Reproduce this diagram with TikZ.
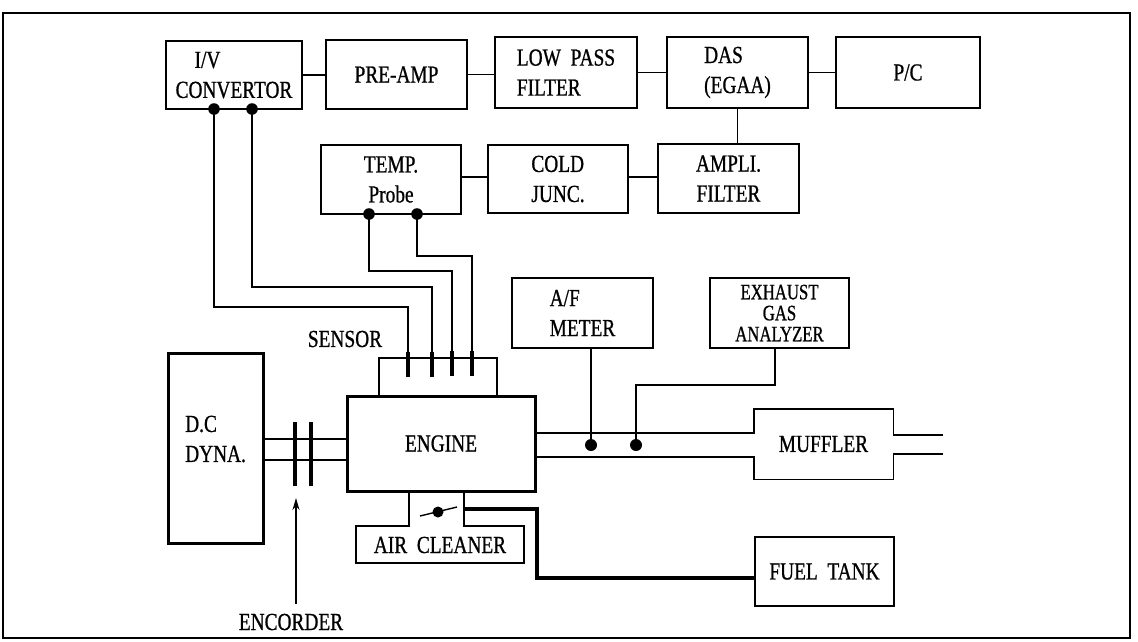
\documentclass[tikz,border=0pt]{standalone}
\usepackage{fontspec}
\setmainfont[FakeStretch=0.79,FakeBold=0.8]{Liberation Serif}
\newfontfamily\narrowfont[FakeStretch=0.76,FakeBold=0.8]{Liberation Serif}
\usetikzlibrary{arrows.meta}
\begin{document}
\begin{tikzpicture}[x=1pt,y=-1pt,
  box/.style={draw, line width=1.4pt, inner sep=0pt, align=center, font=\fontsize{24.5}{30}\selectfont},
  heavybox/.style={box, line width=3pt},
  lbl/.style={inner sep=0pt, align=center, font=\fontsize{24.5}{30}\selectfont},
  wire/.style={line width=1.4pt},
  pin/.style={line width=3.2pt},
  fuel/.style={line width=3.3pt},
  disk/.style={line width=3.5pt},
  dotc/.style={fill=black}]
\useasboundingbox (0,0) rectangle (1138,641);
\draw[line width=1.5pt] (3,13) rectangle (1130,638);

% top row
\node[box, minimum width=136pt, minimum height=68pt, align=left] (IV) at (234,75) {\hspace*{19pt}I/V\\CONVERTOR};
\node[box, minimum width=141pt, minimum height=69pt] (PRE) at (396.5,74.5) {PRE-AMP};
\node[box, minimum width=142pt, minimum height=71pt, align=left] (LPF) at (566,72.5) {LOW\ \ PASS\\FILTER};
\node[box, minimum width=141pt, minimum height=71pt, align=left] (DAS) at (737.5,72.5) {DAS\\(EGAA)};
\node[box, minimum width=144pt, minimum height=71pt] (PC) at (908,72.5) {P/C};

% second row
\node[box, minimum width=140pt, minimum height=69pt] (TEMP) at (391,179.5) {TEMP.\\Probe};
\node[box, minimum width=140pt, minimum height=68pt, align=left] (COLD) at (558,179) {COLD\\JUNC.};
\node[box, minimum width=141pt, minimum height=69pt] (AMPL) at (728.5,178.5) {AMPLI.\\FILTER};

% meters
\node[box, minimum width=141pt, minimum height=70pt, align=left] (AF) at (582.5,313) {A/F\\METER};
\node[box, minimum width=139pt, minimum height=70pt, font=\narrowfont\fontsize{22}{21}\selectfont] (EGA) at (779.5,313) {EXHAUST\\GAS\\ANALYZER};

% engine group
\node[box, minimum width=118pt, minimum height=38pt] (SEN) at (438,377) {};
\node[heavybox, minimum width=188pt, minimum height=95pt] (ENG) at (441,443.5) {ENGINE};
\node[heavybox, minimum width=95pt, minimum height=190pt] (DYNA) at (215.5,448) {};
\node[lbl, align=left, anchor=west] (DYNAT) at (185,439) {D.C\\DYNA.};
\node[lbl] (SENL) at (345,339) {SENSOR};
\node[lbl] (ENC) at (291,622) {ENCORDER};
\node[minimum width=139pt, minimum height=70pt, inner sep=0pt, font=\fontsize{24.5}{30}\selectfont] (MUF) at (823.5,444) {MUFFLER};
\node[box, minimum width=139pt, minimum height=69pt] (FUEL) at (824.5,571.5) {FUEL\ \ TANK};
\node[lbl] (ACL) at (440,545) {AIR\ \ CLEANER};

% top row connectors
\draw[wire] (IV.east) -- (IV.east -| PRE.west);
\draw[wire] (PRE.east) -- (PRE.east -| LPF.west);
\draw[wire] (LPF.east) -- (LPF.east -| DAS.west);
\draw[wire] (DAS.east) -- (DAS.east -| PC.west);
\draw[wire] (DAS.south) -- (DAS.south |- AMPL.north);
\draw[wire] (TEMP.east |- 0,177) -- (COLD.west |- 0,177);
\draw[wire] (COLD.east |- 0,177) -- (AMPL.west |- 0,177);

% sensor wires
\coordinate (ivA) at (214,109);
\coordinate (ivB) at (252,109);
\coordinate (tA) at (369,214);
\coordinate (tB) at (417,214);
\coordinate (s1) at (408,377);
\coordinate (s2) at (432,377);
\coordinate (s3) at (452,376);
\coordinate (s4) at (472,376);
\draw[wire] (ivA) -- ++(0,198) -| (s1);
\draw[wire] (ivB) -- ++(0,178) -| (s2);
\draw[wire] (tA) -- ++(0,57) -| (s3);
\draw[wire] (tB) -- ++(0,42) -| (s4);
\foreach \s in {s1,s2,s3,s4} \draw[pin] (\s) -- ++(0,-25);
\foreach \d in {ivA,ivB,tA,tB} \fill[dotc] (\d) circle (5.8);

% shaft and encoder
\draw[wire] (DYNA.east |- 0,439) -- (ENG.west |- 0,439);
\draw[wire] (DYNA.east |- 0,460) -- (ENG.west |- 0,460);
\draw[disk] (295,422) -- (295,486);
\draw[disk] (311,422) -- (311,486);
\draw[wire, -{Stealth[length=12pt,width=7pt]}] (ENC.north -| 296,0) ++(0,-10) -- (296,498);

% exhaust pipe and muffler
\draw[wire] (ENG.east |- 0,433) -- (MUF.west |- 0,433) -- (MUF.north west) -- (MUF.north east) -- (MUF.east |- 0,435) -- (943,435);
\draw[wire] (ENG.east |- 0,457) -- (MUF.west |- 0,457) -- (MUF.south west) -- (MUF.south east) -- (MUF.east |- 0,454) -- (943,454);
\coordinate (dA) at (591,445);
\coordinate (dB) at (636,445);
\draw[wire] (dA |- AF.south) -- (dA);
\draw[wire] (775,348) -- (775,385) -| (dB);
\fill[dotc] (dA) circle (6);
\fill[dotc] (dB) circle (6);

% air cleaner
\draw[wire] (409,491) -- (409,526) -- (356,526) -- (356,563) -- (524,563) -- (524,526) -- (464,526) -- (464,491);
\draw[wire] (420,516) -- (457,507);
\fill[dotc] (438,512) circle (5.5);

% fuel line
\draw[fuel] (464,509) -| (537,578) -- (FUEL.west |- 0,578);
\end{tikzpicture}
\end{document}
